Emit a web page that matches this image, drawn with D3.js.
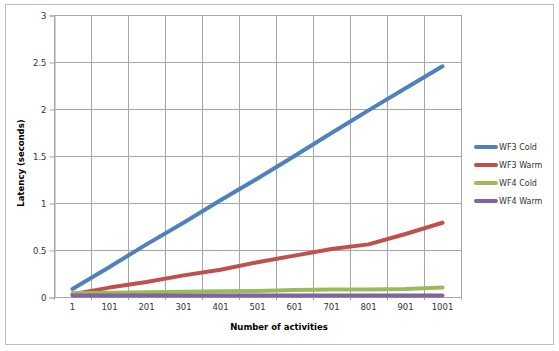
<!DOCTYPE html>
<html><head><meta charset="utf-8">
<script src="https://cdn.jsdelivr.net/npm/d3@7"></script>
<style>body{margin:0;background:#fff}svg{display:block}</style>
</head><body><svg id="c" width="559" height="351"></svg>
<script>
const categories = ["1","101","201","301","401","501","601","701","801","901","1001"];
const seriesNames = ["WF3 Cold","WF3 Warm","WF4 Cold","WF4 Warm"];
const wf3Cold = [0.085,0.32,0.56,0.79,1.03,1.26,1.50,1.745,1.985,2.22,2.455];
const wf3Warm = [0.03,0.10,0.16,0.23,0.29,0.37,0.44,0.51,0.56,0.67,0.79];
const wf4Cold = [0.04,0.045,0.05,0.055,0.06,0.065,0.075,0.08,0.08,0.085,0.10];
const wf4Warm = [0.015,0.015,0.015,0.015,0.015,0.015,0.015,0.015,0.015,0.015,0.015];
const yTicks = [0,0.5,1,1.5,2,2.5,3];
const colors = ["#4F81BD","#C0504D","#9BBB59","#8064A2"];
const seriesData = [wf3Cold, wf3Warm, wf4Cold, wf4Warm];

const svg = d3.select("#c");
const font = "DejaVu Sans, Verdana, sans-serif";
svg.append("rect").attr("x",5.5).attr("y",4.5).attr("width",548).attr("height",340)
  .attr("fill","#fff").attr("stroke","#BDBDBD");

const L=54, R=461, T=15, B=297;
const x = d3.scaleBand().domain(categories).range([L,R]);
const y = d3.scaleLinear().domain([0,3]).range([B,T]);

// grid
const g = svg.append("g");
g.selectAll(".hg").data(yTicks).join("line")
  .attr("x1",L).attr("x2",R).attr("y1",d=>Math.round(y(d))+0.5).attr("y2",d=>Math.round(y(d))+0.5)
  .attr("stroke","#A6A6A6");
const bounds = categories.map(c=>x(c)).concat([R]);
g.selectAll(".vg").data(bounds).join("line")
  .attr("x1",d=>Math.round(d)+0.5).attr("x2",d=>Math.round(d)+0.5).attr("y1",T).attr("y2",B+3)
  .attr("stroke","#A6A6A6");

// y axis
const ya = d3.axisLeft(y).tickValues(yTicks).tickSize(5).tickPadding(3).tickFormat(d=>String(d));
const yg = svg.append("g").attr("transform",`translate(${L+0.5},0.5)`).call(ya);
yg.select(".domain").attr("stroke","#A6A6A6");
yg.selectAll(".tick line").attr("stroke","#A6A6A6");
yg.selectAll("text").attr("font-family",font).attr("font-size",8.5).attr("fill","#333");

// x axis labels
const xa = d3.axisBottom(x).tickSize(0).tickPadding(7);
const xg = svg.append("g").attr("transform",`translate(0,${B})`).call(xa);
xg.select(".domain").remove();
xg.selectAll("text").attr("font-family",font).attr("font-size",8.5).attr("fill","#333");

// lines
const line = d3.line().x((d,i)=>x(categories[i])+x.bandwidth()/2).y(d=>y(d));
seriesData.forEach((s,k)=>{
  svg.append("path").datum(s).attr("d",line).attr("fill","none")
    .attr("stroke",colors[k]).attr("stroke-width",4).attr("stroke-linecap","round").attr("stroke-linejoin","round");
});

// titles
svg.append("text").attr("x",279).attr("y",330).attr("text-anchor","middle")
  .attr("font-family",font).attr("font-size",8.5).attr("font-weight","bold").attr("fill","#000")
  .text("Number of activities");
svg.append("text").attr("transform","translate(24,163) rotate(-90)").attr("text-anchor","middle")
  .attr("font-family",font).attr("font-size",8.5).attr("font-weight","bold").attr("fill","#000")
  .text("Latency (seconds)");

// legend
const lg = svg.append("g");
seriesNames.forEach((n,k)=>{
  const yy = 147 + k*18;
  lg.append("line").attr("x1",476).attr("x2",496).attr("y1",yy).attr("y2",yy)
    .attr("stroke",colors[k]).attr("stroke-width",4).attr("stroke-linecap","round");
  lg.append("text").attr("x",499).attr("y",yy+3).attr("font-family",font).attr("font-size",8)
    .attr("fill","#333").text(n);
});
</script></body></html>
